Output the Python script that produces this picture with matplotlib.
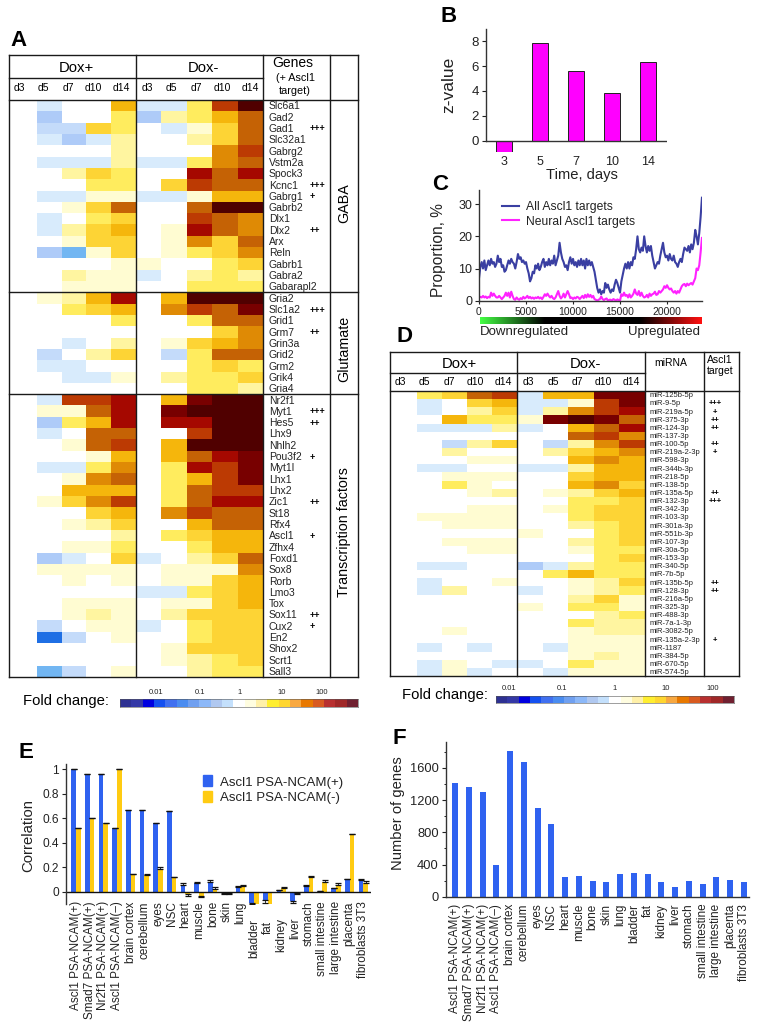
"""Multi-panel figure: expression heatmaps, z-values, running proportion and tissue bars."""

import matplotlib

matplotlib.use("Agg")

import matplotlib.pyplot as plt
import numpy as np
from matplotlib.colors import BoundaryNorm, LinearSegmentedColormap, ListedColormap
from matplotlib.patches import Patch
from matplotlib.transforms import ScaledTranslation

plt.rcParams["font.family"] = ["Liberation Sans", "DejaVu Sans"]

W, H = 760, 1030

# heat levels: negative is blue, 0 white, positive runs yellow to dark red
level_values = list(range(-5, 12))
level_colors = [
    "#1f6fe4", "#72b6f2", "#aecbf8", "#c4dbfa", "#d8ebfc", "#ffffff",
    "#fffcd2", "#fff5a0", "#ffec5e", "#fdd435", "#f5b60c", "#df8a05",
    "#c56205", "#bc3a03", "#a50800", "#780000", "#500000",
]

days = ["d3", "d5", "d7", "d10", "d14"]

gaba_genes = ["Slc6a1", "Gad2", "Gad1", "Slc32a1", "Gabrg2", "Vstm2a", "Spock3", "Kcnc1", "Gabrg1",
              "Gabrb2", "Dlx1", "Dlx2", "Arx", "Reln", "Gabrb1", "Gabra2", "Gabarapl2"]
gaba_levels = [
    [0, -1, 0, 0, 5, -1, -1, 3, 8, 11],
    [0, -3, 0, 0, 3, -3, 2, 3, 5, 7],
    [0, -2, -2, 4, 3, 0, -1, 1, 4, 7],
    [0, -1, -3, -1, 2, 0, 0, 2, 4, 7],
    [0, 0, 0, 0, 2, 0, 0, 0, 6, 8],
    [0, -1, -1, -1, 2, -1, -1, 3, 6, 7],
    [0, 0, 2, 4, 3, 0, 0, 9, 7, 9],
    [0, 0, 0, 3, 3, 0, 4, 8, 7, 7],
    [0, -1, -1, 1, 1, -1, -1, 1, 5, 5],
    [0, 0, 1, 4, 7, 0, 0, 7, 11, 11],
    [0, -1, 0, 3, 4, 0, 0, 8, 7, 6],
    [0, -1, 2, 4, 5, 0, 1, 9, 7, 6],
    [0, 0, 1, 4, 4, 0, 1, 6, 4, 7],
    [0, -3, -4, 1, 4, 0, 1, 3, 4, 6],
    [0, 0, 0, 0, 1, 1, 0, 0, 3, 4],
    [0, 0, 2, 1, 1, -1, 0, 2, 3, 2],
    [0, 0, 1, 1, 1, 0, 0, 3, 3, 3],
]
gaba_marks = {"Gad1": "+++", "Kcnc1": "+++", "Gabrg1": "+", "Dlx2": "++"}

glutamate_genes = ["Gria2", "Slc1a2", "Grid1", "Grm7", "Grin3a", "Grid2", "Grm2", "Grik4", "Gria4"]
glutamate_levels = [
    [0, 1, 2, 5, 9, 0, 5, 11, 11, 11],
    [0, 0, 3, 4, 5, 0, 6, 8, 7, 10],
    [0, 0, 0, 0, 3, 0, 0, 3, 7, 7],
    [0, 0, 0, 0, 0, 0, 0, 0, 4, 6],
    [0, 0, -1, 0, 2, 0, 1, 4, 5, 6],
    [0, -2, 0, 2, 4, 0, -2, 3, 7, 7],
    [0, -1, -1, 0, 0, 0, 0, 3, 4, 3],
    [0, 0, -1, -1, 1, 0, 2, 3, 3, 4],
    [0, 0, 0, 0, 0, 0, 0, 3, 3, 2],
]
glutamate_marks = {"Slc1a2": "+++", "Grm7": "++"}

tf_genes = ["Nr2f1", "Myt1", "Hes5", "Lhx9", "Nhlh2", "Pou3f2", "Myt1l", "Lhx1", "Lhx2", "Zic1", "St18",
            "Rfx4", "Ascl1", "Zfhx4", "Foxd1", "Sox8", "Rorb", "Lmo3", "Tox", "Sox11", "Cux2", "En2",
            "Shox2", "Scrt1", "Sall3"]
tf_levels = [
    [0, -1, 8, 8, 9, 0, 5, 10, 11, 11],
    [0, 1, 1, 7, 9, 0, 10, 11, 11, 11],
    [0, -3, 3, 5, 9, 0, 9, 9, 11, 11],
    [0, -1, 0, 7, 7, 0, 0, 8, 11, 11],
    [0, 0, 1, 7, 8, 0, 5, 11, 11, 11],
    [0, 0, 0, 1, 5, 0, 5, 7, 9, 10],
    [0, -1, -1, 3, 6, 0, 3, 9, 8, 10],
    [0, 0, 1, 6, 7, 0, 3, 5, 8, 10],
    [0, 0, 5, 5, 5, 0, 3, 7, 8, 8],
    [0, 1, 4, 6, 8, 0, 3, 7, 9, 9],
    [0, 0, 0, 4, 5, 0, 6, 8, 7, 7],
    [0, 0, 1, 2, 4, 0, 0, 5, 7, 7],
    [0, 0, 0, 0, 2, 0, 3, 4, 5, 5],
    [0, 0, 1, 1, 3, 0, 0, 3, 5, 5],
    [0, -3, -1, 0, 4, -1, 0, 2, 4, 7],
    [0, 1, 1, 1, 1, 0, 1, 1, 1, 6],
    [0, 0, 1, 0, 1, 0, 1, 1, 4, 5],
    [0, 0, 0, 0, 0, -1, -1, 3, 4, 5],
    [0, 0, 1, 1, 1, 0, 1, 1, 4, 5],
    [0, 0, 1, 2, 1, 0, 2, 4, 4, 4],
    [0, -2, 0, 1, 1, -1, 0, 3, 4, 4],
    [0, -5, -2, 0, 1, 0, 0, 3, 4, 4],
    [0, 0, 0, 0, 0, 0, 1, 4, 4, 4],
    [0, 0, 0, 0, 0, 0, 1, 2, 3, 4],
    [0, -4, -2, 0, 1, 0, 0, 2, 3, 3],
]
tf_marks = {"Myt1": "+++", "Hes5": "++", "Pou3f2": "+", "Zic1": "++", "Ascl1": "+", "Sox11": "++", "Cux2": "+"}

mirnas = ["miR-125b-5p", "miR-9-5p", "miR-219a-5p", "miR-375-3p", "miR-124-3p", "miR-137-3p", "miR-100-5p",
          "miR-219a-2-3p", "miR-598-3p", "miR-344b-3p", "miR-218-5p", "miR-138-5p", "miR-135a-5p", "miR-132-3p",
          "miR-342-3p", "miR-103-3p", "miR-301a-3p", "miR-551b-3p", "miR-107-3p", "miR-30a-5p", "miR-153-3p",
          "miR-340-5p", "miR-7b-5p", "miR-135b-5p", "miR-128-3p", "miR-216a-5p", "miR-325-3p", "miR-488-3p",
          "miR-7a-1-3p", "miR-3082-5p", "miR-135a-2-3p", "miR-1187", "miR-384-5p", "miR-670-5p", "miR-574-5p"]
mirna_levels = [
    [0, 3, 4, 7, 8, -1, 5, 5, 10, 10],
    [0, -1, 0, 4, 5, -1, -1, 1, 8, 10],
    [0, -1, 0, 2, 4, -1, 2, 6, 8, 9],
    [0, 0, 5, 3, 3, 1, 10, 11, 10, 7],
    [0, -1, -1, -1, 2, -1, 0, 5, 7, 9],
    [0, 0, 0, 0, 0, 0, 0, 7, 8, 6],
    [0, 0, -2, 2, 4, 0, -2, 2, 6, 8],
    [0, 0, 2, 0, 0, 0, 2, 4, 5, 6],
    [0, 0, 0, 1, 1, 0, 0, 5, 6, 5],
    [0, -1, -1, 0, 0, -1, -1, 2, 5, 5],
    [0, 0, 1, 1, 1, 0, 0, 4, 5, 5],
    [0, 0, 3, 1, 0, 0, 0, 5, 6, 4],
    [0, 0, 0, 1, 2, 0, 1, 2, 4, 5],
    [0, 0, 0, 0, 0, 0, 0, 3, 3, 4],
    [0, 0, 0, 1, 1, 0, 1, 3, 4, 4],
    [0, 1, 1, 1, 1, 0, 0, 3, 4, 4],
    [0, 0, 1, 1, 1, 0, 0, 2, 3, 4],
    [0, 0, 0, 0, 0, 1, 0, 0, 3, 4],
    [0, 0, 1, 1, 1, 0, 0, 2, 3, 4],
    [0, 0, 0, 1, 1, 0, 0, 1, 3, 3],
    [0, 0, 0, 0, 0, 0, 0, 0, 3, 4],
    [0, -1, -1, 0, 0, -3, -1, 2, 3, 3],
    [0, 0, 0, 0, 0, 0, 3, 5, 3, 3],
    [0, -1, 0, 0, 1, 0, 0, 1, 2, 4],
    [0, -1, 2, 0, 0, -1, 0, 1, 2, 3],
    [0, 0, 0, 0, 0, 0, 0, 2, 4, 1],
    [0, 0, 0, 0, 0, 1, 0, 3, 3, 1],
    [0, 0, 0, 0, 0, 0, 0, 0, 2, 3],
    [0, 0, 0, 0, 0, 0, 0, 3, 2, 2],
    [0, 0, 1, 0, 0, 0, 0, 1, 2, 2],
    [0, 0, 0, 0, 0, 0, 0, 1, 1, 1],
    [0, -1, 0, -1, 0, 0, -1, 1, 1, 1],
    [0, 0, 0, 0, 0, 0, 0, 1, 2, 1],
    [0, -1, 1, 0, -1, -1, 0, 3, 1, 1],
    [0, -1, 1, -1, 0, 0, -1, 1, 1, 1],
]
mirna_marks = {"miR-9-5p": "+++", "miR-219a-5p": "+", "miR-375-3p": "++", "miR-124-3p": "++", "miR-100-5p": "++",
               "miR-219a-2-3p": "+", "miR-135a-5p": "++", "miR-132-3p": "+++", "miR-135b-5p": "++",
               "miR-128-3p": "++", "miR-135a-2-3p": "+"}

fold_strip_colors = [
    "#2e3192", "#3438a6", "#0000e0", "#1450f0", "#4070f0", "#4a8cf0", "#70a0f0", "#8cb8f8", "#b0c8f0", "#c4e0fc",
    "#ffffff", "#fffde0", "#fff0a8", "#ffee30", "#ffd630", "#f8a840", "#e87800", "#d85a20", "#b83030", "#a02828",
    "#702030",
]
fold_tick_labels = ["0.01", "0.1", "1", "10", "100"]

# panel B
zvalue_days = ["3", "5", "7", "10", "14"]
zvalues = [-0.95, 7.85, 5.6, 3.8, 6.3]

# panel C, seven readings per 1000 genes along the ranked list
all_targets = [
    7, 10.5, 12, 10, 12.5, 9.5, 11,
    12.5, 11, 13, 11.5, 12, 10.5, 11.5,
    14, 12, 13, 10.5, 11, 9, 9.5,
    11, 12.5, 11.5, 13, 12, 11.5, 10,
    12, 14.5, 13, 13.5, 12, 12.5, 11.5,
    12, 10, 8.5, 6, 7, 9, 8.5,
    11, 10, 11.5, 9.5, 10.5, 12, 13,
    10.5, 12, 11, 13, 11, 12.5, 11.5,
    14, 11, 12.5, 14, 18, 15, 13,
    12, 10.5, 11, 9.5, 12, 13.5, 11.5,
    13, 11, 12, 10.5, 12.5, 11, 13,
    11, 12.5, 10, 13, 11, 12.5, 11,
    12, 10.5, 9, 6.5, 4, 2.5, 3.5,
    2, 3, 2.5, 5.5, 4, 5, 3.5,
    2.5, 3.5, 3, 5, 6.5, 5.5, 4,
    2.5, 6, 8, 10, 11.5, 10, 12,
    10, 12, 11, 13.5, 13, 16, 20,
    16, 15, 16.5, 15.5, 20, 17, 15,
    17, 15.5, 17, 14, 12, 10, 11,
    12, 11.5, 14, 16, 18, 15, 13.5,
    14, 12.5, 14.5, 13, 12.5, 14, 12,
    11.5, 10.5, 12, 13, 12, 14.5, 16.5,
    16, 15.5, 17, 15, 17.5, 16, 18,
    22, 20, 17.5, 21, 26, 32,
]
neural_targets = [
    1, 1.2, 1, 1.5, 1, 1.3, 0.8,
    1.2, 1, 2.5, 1.5, 2.2, 1.5, 1,
    1, 1.5, 1, 0.5, 1, 1.5, 2.5,
    1.5, 2.5, 1, 2.8, 1.5, 0.5, 0.3,
    1, 0.5, 0.3, 0.8, 0.5, 1.2, 0.7,
    1, 1.5, 0.8, 1.2, 0.7, 1, 0.6,
    1, 0.8, 1.2, 0.7, 1, 0.5, 1.2,
    2, 1.5, 2.2, 1.5, 1, 1.5, 0.8,
    0.5, 1, 2, 3, 1.5, 0.7, 1.2,
    2.2, 1, 2, 3, 2, 0.8, 1,
    0.5, 1, 0.7, 1.2, 1, 0.5, 1,
    1.5, 0.8, 1.8, 1, 2, 1.2, 1.8,
    1, 1.5, 0.5, 0.3, 0, 0.3, 0.5,
    1.3, 0.5, 0.2, 0.5, 0.7, 0, 0.3,
    0.3, 0, 0.5, 0.3, 0, 0.4, 0.2,
    0, 2, 1.5, 2.5, 1.5, 1.8, 1,
    2, 1, 1.5, 2.2, 3.5, 2.2, 1.8,
    3, 1.5, 2.5, 1.5, 1, 1.2, 1.8,
    1, 2.2, 1.5, 2, 2.2, 2.8, 1.8,
    2, 3, 2.5, 3, 3.5, 4.5, 4,
    4.8, 4, 3.5, 3.8, 3, 2.5, 3,
    2.2, 3, 2.5, 3.5, 4.5, 5, 5.2,
    4.5, 5.3, 4.8, 5.2, 5.5, 5, 6,
    7, 10, 9.5, 11, 15, 19.5,
]

# panels E and F
tissues = ["Ascl1 PSA-NCAM(+)", "Smad7 PSA-NCAM(+)", "Nr2f1 PSA-NCAM(+)", "Ascl1 PSA-NCAM(–)", "brain cortex",
           "cerebellum", "eyes", "NSC", "heart", "muscle", "bone", "skin", "lung", "bladder", "fat", "kidney",
           "liver", "stomach", "small intestine", "large intestine", "placenta", "fibroblasts 3T3"]
corr_plus = [1.0, 0.965, 0.965, 0.52, 0.67, 0.67, 0.565, 0.66, 0.06, 0.07, 0.08, -0.01, 0.04, -0.09, -0.065, 0.015,
             -0.07, 0.045, 0.008, 0.03, 0.105, 0.1]
corr_plus_err = [0, 0, 0, 0, 0, 0, 0, 0, 0.01, 0.008, 0.02, 0.005, 0.005, 0.01, 0.025, 0.003, 0.02, 0.015, 0.002,
                 0.005, 0, 0.005]
corr_minus = [0.52, 0.605, 0.565, 1.0, 0.145, 0.14, 0.185, 0.12, -0.02, -0.03, 0.025, -0.01, 0.05, -0.125, -0.13,
              0.03, -0.01, 0.12, 0.085, 0.055, 0.47, 0.075]
corr_minus_err = [0, 0, 0, 0, 0.005, 0.003, 0.015, 0.005, 0.01, 0.012, 0.012, 0.003, 0.003, 0.02, 0.025, 0.012,
                  0.004, 0.013, 0.015, 0.015, 0.003, 0.014]
# labels pushed below the downward bars in panel E, in pixels
label_drops = {"bladder": 18, "fat": 20, "kidney": 17, "liver": 16}
gene_counts = [1408, 1362, 1296, 390, 1814, 1669, 1106, 899, 244, 253, 195, 182, 277, 298, 282, 182, 124, 195, 161,
               244, 207, 178]

BAR_BLUE = "#2f62f0"
BAR_YELLOW = "#ffcb12"


def px_axes(fig, left, top, right, bottom):
    """Add an axes given its box in reference pixels."""
    return fig.add_axes([left / W, 1 - bottom / H, (right - left) / W, (bottom - top) / H])


def draw_heat(fig, levels, x0, y0, x1, y1):
    """Draw a block of level rows in one pixel box."""
    ax = px_axes(fig, x0, y0, x1, y1)
    bounds = np.array(level_values + [level_values[-1] + 1]) - 0.5
    cmap = ListedColormap(level_colors)
    ax.pcolormesh(np.array(levels), cmap=cmap, norm=BoundaryNorm(bounds, cmap.N))
    ax.invert_yaxis()
    ax.axis("off")


def draw_strip(fig, x0, y0, x1, y1):
    """Draw the fold change colour strip."""
    ax = px_axes(fig, x0, y0, x1, y1)
    ax.imshow([list(range(len(fold_strip_colors)))], aspect="auto", cmap=ListedColormap(fold_strip_colors))
    ax.set_xticks([])
    ax.set_yticks([])
    for spine in ax.spines.values():
        spine.set_linewidth(0.4)
        spine.set_color("#555555")


def rows_text(ax, x, y_top, row_h, names, marks, mark_x, size, mark_size, mark_ha="left"):
    """Write the row names and their target marks next to a heatmap."""
    for i, name in enumerate(names):
        y = y_top + (i + 0.5) * row_h + 0.7
        ax.text(x, y, name, fontsize=size, va="center", color="#222222")
        if name in marks:
            ax.text(mark_x, y, marks[name], fontsize=mark_size, va="center", ha=mark_ha, fontweight="bold")


def table_lines(ax, segments):
    for (x0, y0, x1, y1) in segments:
        ax.plot([x0, x1], [y0, y1], color="#1a1a1a", lw=1.0, solid_capstyle="projecting")


def style_left(ax, size):
    for side in ["top", "right", "bottom"]:
        ax.spines[side].set_visible(False)
    ax.spines["left"].set_linewidth(1.0)
    ax.spines["left"].set_color("#333333")
    ax.tick_params(axis="y", labelsize=size, length=3, width=0.8, pad=2, colors="#222222")


fig = plt.figure(figsize=(W / 100, H / 100), dpi=100)

# overlay in reference pixels holds the table rules and the free text
over = fig.add_axes([0, 0, 1, 1], zorder=5)
over.set_xlim(0, W)
over.set_ylim(H, 0)
over.axis("off")
over.patch.set_alpha(0)

for letter, x, y in [("A", 10, 40), ("B", 440, 17), ("C", 432, 185), ("D", 397, 336), ("E", 19, 753), ("F", 393, 739)]:
    over.text(x, y, letter, fontsize=16, fontweight="bold", va="center")

# panel A
a_levels = gaba_levels + glutamate_levels + tf_levels
a_rows = np.array(a_levels)
draw_heat(fig, a_rows[:, :5], 12, 100, 136, 677)
draw_heat(fig, a_rows[:, 5:], 136, 100, 263, 677)
a_row_h = (677 - 100) / len(a_levels)
y_glu = 100 + len(gaba_genes) * a_row_h
y_tf = y_glu + len(glutamate_genes) * a_row_h
table_lines(over, [(9, 55, 358, 55), (9, 677, 358, 677), (9, 55, 9, 677), (358, 55, 358, 677), (136, 55, 136, 677),
                   (263, 55, 263, 677), (330, 55, 330, 677), (9, 78, 263, 78), (9, 100, 358, 100),
                   (9, y_glu, 358, y_glu), (9, y_tf, 358, y_tf)])
over.text(76, 68, "Dox+", fontsize=10.7, ha="center", va="center")
over.text(203, 68, "Dox-", fontsize=10.7, ha="center", va="center")
over.text(293, 63, "Genes", fontsize=10, ha="center", va="center")
over.text(295, 78, "(+ Ascl1", fontsize=7.8, ha="center", va="center")
over.text(295, 91, "target)", fontsize=7.8, ha="center", va="center")
for day, xa, xb in zip(days, [19, 43, 68, 93, 121], [147, 171, 196, 222, 250]):
    over.text(xa, 88, day, fontsize=7.5, ha="center", va="center")
    over.text(xb, 88, day, fontsize=7.5, ha="center", va="center")
rows_text(over, 268.7, 100, a_row_h, gaba_genes + glutamate_genes + tf_genes,
          {**gaba_marks, **glutamate_marks, **tf_marks}, 310, 7.5, 6.5)
over.text(344, 203, "GABA", fontsize=10.3, rotation=90, ha="center", va="center")
over.text(344, 349, "Glutamate", fontsize=10.3, rotation=90, ha="center", va="center")
over.text(344, 532, "Transcription factors", fontsize=10.3, rotation=90, ha="center", va="center")

over.text(23, 701, "Fold change:", fontsize=10.7, va="center")
draw_strip(fig, 120, 699, 358, 707)
for label, x in zip(fold_tick_labels, [156, 200, 240, 282, 322]):
    over.text(x, 692, label, fontsize=5.5, ha="center", va="center", color="#222222")

# panel D
d_rows = np.array(mirna_levels)
draw_heat(fig, d_rows[:, :5], 392, 391, 517, 676)
draw_heat(fig, d_rows[:, 5:], 517, 391, 644.5, 676)
d_row_h = (676 - 391) / len(mirnas)
table_lines(over, [(390, 352, 739, 352), (390, 676, 739, 676), (390, 352, 390, 676), (739, 352, 739, 676),
                   (517, 352, 517, 676), (644.5, 352, 644.5, 676), (704, 352, 704, 676), (390, 373, 644.5, 373),
                   (390, 391, 739, 391)])
over.text(459, 364, "Dox+", fontsize=10.7, ha="center", va="center")
over.text(585, 364, "Dox-", fontsize=10.7, ha="center", va="center")
over.text(671, 363, "miRNA", fontsize=7.5, ha="center", va="center")
over.text(720, 360, "Ascl1", fontsize=7.5, ha="center", va="center")
over.text(720, 371, "target", fontsize=7.5, ha="center", va="center")
for day, xa, xb in zip(days, [400, 424, 449, 475, 503], [528, 553, 577, 603, 631]):
    over.text(xa, 382, day, fontsize=7.5, ha="center", va="center")
    over.text(xb, 382, day, fontsize=7.5, ha="center", va="center")
rows_text(over, 650, 391, d_row_h, mirnas, mirna_marks, 715, 5.5, 5.5, mark_ha="center")

over.text(402, 695, "Fold change:", fontsize=10.7, va="center")
draw_strip(fig, 496, 696, 734, 703)
for label, x in zip(fold_tick_labels, [509, 562, 615, 666, 713]):
    over.text(x, 688, label, fontsize=5.5, ha="center", va="center", color="#222222")

# panel B
ax_b = px_axes(fig, 485.7, 29, 667, 152.3)
ax_b.bar(range(len(zvalues)), zvalues, width=0.43, color="#ff00ff", edgecolor="#222222", linewidth=0.7)
ax_b.set_ylim(-0.95, 9)
ax_b.set_xlim(-0.51, 4.53)
ax_b.axhline(0, color="#333333", lw=1.0)
style_left(ax_b, 9.5)
ax_b.spines["left"].set_bounds(0, 9)
ax_b.set_yticks([0, 2, 4, 6, 8])
ax_b.set_xticks(range(len(zvalues)))
ax_b.set_xticklabels(zvalue_days, fontsize=9, color="#222222")
ax_b.tick_params(axis="x", length=0, pad=3)
over.text(449, 85, "z-value", fontsize=12.5, rotation=90, ha="center", va="center", color="#222222")
over.text(582, 175.5, "Time, days", fontsize=10.6, ha="center", va="center", color="#222222")

# panel C
ax_c = px_axes(fig, 479, 190, 702, 300.7)
genes_all = np.arange(len(all_targets)) * 1000 / 7
genes_neural = np.arange(len(neural_targets)) * 1000 / 7
ax_c.plot(genes_all, all_targets, color="#3a3fa2", lw=1.5, label="All Ascl1 targets")
ax_c.plot(genes_neural, neural_targets, color="#ff22ff", lw=1.5, label="Neural Ascl1 targets")
ax_c.set_xlim(0, 23720)
ax_c.set_ylim(0, 34.4)
style_left(ax_c, 9)
ax_c.spines["bottom"].set_linewidth(1.0)
ax_c.spines["bottom"].set_visible(True)
ax_c.spines["bottom"].set_color("#333333")
ax_c.set_yticks([0, 10, 20, 30])
ax_c.set_xticks([0, 5000, 10000, 15000, 20000])
ax_c.tick_params(axis="x", labelsize=7.5, length=2.5, width=0.8, pad=2, colors="#222222")
ax_c.legend(loc="upper left", bbox_to_anchor=(0.103, 0.90), frameon=False, fontsize=8.7, handlelength=1.45,
            handletextpad=0.55, labelspacing=0.22, borderpad=0, borderaxespad=0, labelcolor="#222222")
over.text(439, 250, "Proportion, %", fontsize=11.2, rotation=90, ha="center", va="center", color="#222222")

ax_grad = px_axes(fig, 480, 317, 702, 324)
regulation_cmap = LinearSegmentedColormap.from_list(
    "regulation", [(0, "#44ff44"), (0.29, "#000000"), (0.72, "#000000"), (1, "#ff1010")])
ax_grad.imshow([np.linspace(0, 1, 256)], aspect="auto", cmap=regulation_cmap)
ax_grad.axis("off")
over.text(480, 332, "Downregulated", fontsize=9.5, va="center", color="#222222")
over.text(700, 332, "Upregulated", fontsize=9.5, ha="right", va="center", color="#222222")

# panel E
ax_e = px_axes(fig, 66, 764, 371, 904)
pos = np.arange(len(tissues))
bar_w = 0.34
for offset, vals, errs, color in [(-bar_w / 2, corr_plus, corr_plus_err, BAR_BLUE),
                                  (bar_w / 2, corr_minus, corr_minus_err, BAR_YELLOW)]:
    vals = np.array(vals)
    errs = np.array(errs)
    ax_e.bar(pos + offset, vals, width=bar_w, color=color)
    ax_e.errorbar(pos + offset, vals, yerr=[np.where(vals < 0, errs, 0), np.where(vals >= 0, errs, 0)], fmt="none",
                  ecolor="#111111", elinewidth=0.6, capsize=2.5, capthick=0.9)
ax_e.set_xlim(-0.73, 21.56)
ax_e.set_ylim(-0.098, 1.043)
ax_e.axhline(0, color="#111111", lw=1.0)
style_left(ax_e, 8.6)
ax_e.set_yticks([0, 0.2, 0.4, 0.6, 0.8, 1])
ax_e.set_yticklabels(["0", "0.2", "0.4", "0.6", "0.8", "1"])
ax_e.set_xticks(pos)
ax_e.set_xticklabels(tissues, rotation=90, fontsize=8.5, color="#222222")
ax_e.tick_params(axis="x", length=0, pad=-2)
for tick_label in ax_e.get_xticklabels():
    drop = label_drops.get(tick_label.get_text(), 0)
    tick_label.set_transform(tick_label.get_transform() + ScaledTranslation(0, -drop / 100, fig.dpi_scale_trans))
ax_e.legend(handles=[Patch(color=BAR_BLUE, label="Ascl1 PSA-NCAM(+)"), Patch(color=BAR_YELLOW, label="Ascl1 PSA-NCAM(-)")],
            loc="upper left", bbox_to_anchor=(0.45, 0.918), frameon=False, fontsize=9.5, handlelength=0.7,
            handleheight=0.9, handletextpad=0.55, labelspacing=0.2, borderpad=0, borderaxespad=0,
            labelcolor="#222222")
over.text(28, 835, "Correlation", fontsize=10.7, rotation=90, ha="center", va="center", color="#222222")

# panel F
ax_f = px_axes(fig, 445.7, 742, 749.3, 896.7)
ax_f.bar(pos, gene_counts, width=0.44, color=BAR_BLUE)
ax_f.set_xlim(-0.68, 21.4)
ax_f.set_ylim(0, 1922)
style_left(ax_f, 9.3)
ax_f.spines["bottom"].set_visible(True)
ax_f.spines["bottom"].set_linewidth(1.0)
ax_f.spines["bottom"].set_color("#333333")
ax_f.set_yticks([0, 400, 800, 1200, 1600])
ax_f.set_yticks([200, 600, 1000, 1400, 1800], minor=True)
ax_f.tick_params(axis="y", which="minor", length=1.5, width=0.6)
ax_f.set_xticks(pos)
ax_f.set_xticklabels(tissues, rotation=90, fontsize=8.5, color="#222222")
ax_f.tick_params(axis="x", length=0, pad=5)
over.text(398, 813, "Number of genes", fontsize=10.6, rotation=90, ha="center", va="center", color="#222222")

fig.savefig("out.png", dpi=100)
plt.close(fig)
